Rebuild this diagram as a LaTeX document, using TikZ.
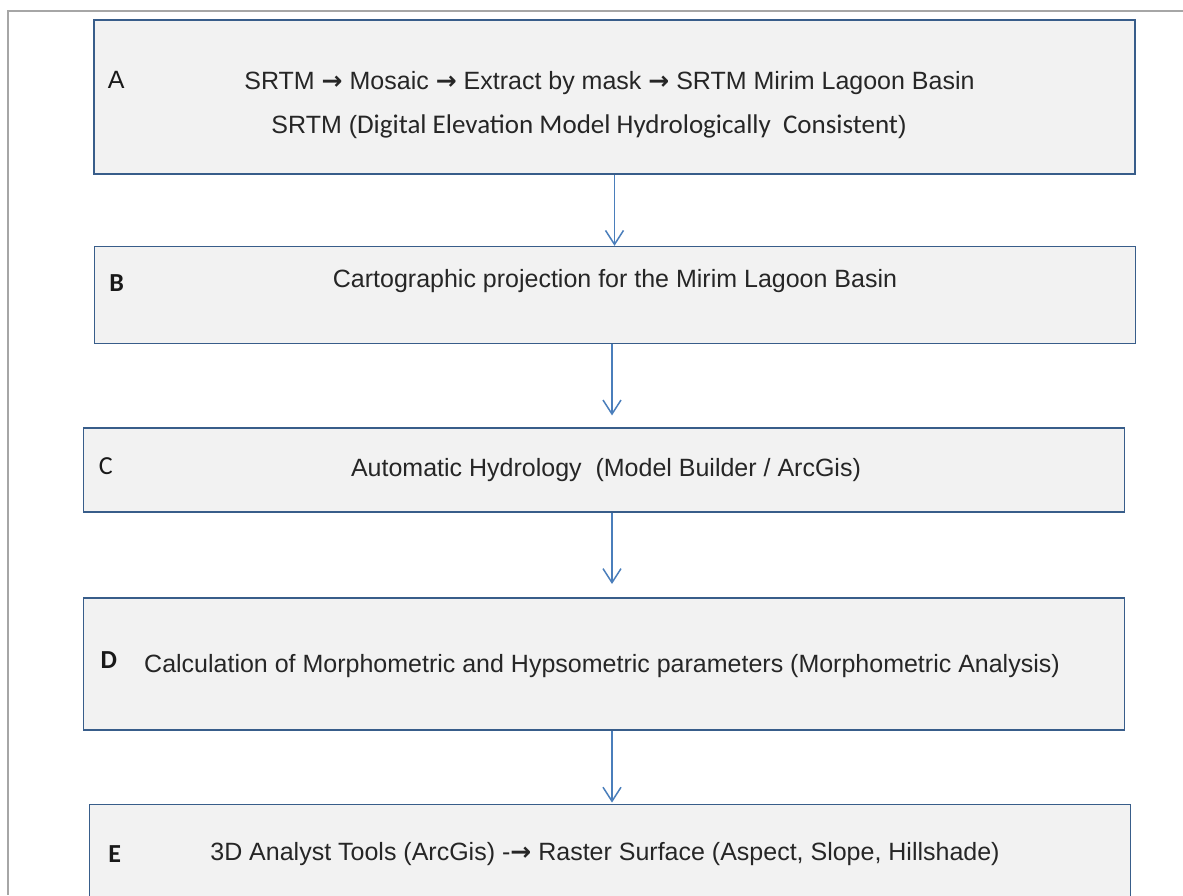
\documentclass[tikz,border=0pt]{standalone}
\usepackage{fontspec}
\setmainfont{Liberation Sans}
\newfontfamily\calibri{Carlito}
\newfontfamily\arrowfont{DejaVu Sans}
\usepackage{tikz}
\usetikzlibrary{calc}
\usetikzlibrary{positioning}
\usetikzlibrary{arrows.meta}

\definecolor{boxBorder}{RGB}{56,93,138}
\definecolor{boxFill}{RGB}{242,242,242}
\definecolor{arrowBlue}{RGB}{74,126,187}
\definecolor{frameGray}{RGB}{166,166,166}

\newcommand{\bigArrow}{{\arrowfont\bfseries →}}

\begin{document}
\begin{tikzpicture} [x=1pt, y=-1pt, node distance = 71pt]
            % Set primary nodes
            \tikzset{
                stepNode/.style={
                        draw=boxBorder,
                        fill=boxFill,
                        line width=1.6pt,
                        rectangle,
                        minimum width=1041pt
                    }
            }
            \tikzset{
                stepText/.style={
                        inner sep=0pt,
                        text=black!85,
                        font=\fontsize{25}{30}\selectfont
                    }
            }
            \tikzset{
                letterNode/.style={
                        inner sep=0pt,
                        text=black!90,
                        font=\calibri\bfseries\fontsize{26}{30}\selectfont
                    }
            }
            % Configure arrows
            \tikzstyle{arrow} = [arrowBlue, line width=1.5pt, ->, >={Straight Barb[length=14pt, width=18pt]}]
            \useasboundingbox (0,0) rectangle (1183,895);
            % Page frame
            \draw[frameGray, line width=1.5pt] (1183,11) -- (8,11) -- (8,895);
            % Placing nodes
            \node[stepNode, minimum height=154pt] (stepA) at (614.5,97) {};
            \node[stepNode, minimum height=97pt, below = 71pt of stepA, xshift = 0.5pt] (stepB) {};
            \node[stepNode, minimum height=84pt, below = 83pt of stepB, xshift = -11pt] (stepC) {};
            \node[stepNode, minimum height=132pt, below = 84pt of stepC] (stepD) {};
            \node[stepNode, minimum height=95pt, below = 73pt of stepD, xshift = 6pt] (stepE) {};
            % Letters
            \node[letterNode, font=\fontsize{25}{30}\selectfont, xshift = 23pt, yshift = 17pt] (letterA) at (stepA.west) {A};
            \node[letterNode, xshift = 23pt, yshift = 12pt] (letterB) at (stepB.west) {B};
            \node[letterNode, font=\calibri\fontsize{26}{30}\selectfont, xshift = 23pt, yshift = 4pt] (letterC) at (stepC.west) {C};
            \node[letterNode, xshift = 26pt, yshift = 4pt] (letterD) at (stepD.west) {D};
            \node[letterNode, xshift = 26pt, yshift = -2pt] (letterE) at (stepE.west) {E};
            % Texts
            \node[stepText] (textA) at (609.5,83) {SRTM \bigArrow{} Mosaic \bigArrow{} Extract by mask \bigArrow{} SRTM Mirim Lagoon Basin};
            \node[stepText] (textAA) at (589,127) {SRTM ({\calibri\fontsize{27}{30}\selectfont Digital Elevation Model Hydrologically\ \ Consistent})};
            \node[stepText, yshift = 14pt] (textB) at (stepB.center) {Cartographic projection for the Mirim Lagoon Basin};
            \node[stepText, xshift = 2pt] (textC) at (stepC.center) {Automatic Hydrology\ \ (Model Builder / ArcGis)};
            \node[stepText, xshift = -2pt, yshift = -2pt] (textD) at (stepD.center) {Calculation of Morphometric and Hypsometric parameters (Morphometric Analysis)};
            \node[stepText, xshift = -5pt, yshift = -2pt] (textE) at (stepE.center) {3D Analyst Tools (ArcGis) -\bigArrow\ Raster Surface (Aspect, Slope, Hillshade)};
            % Draw arrows
            \draw[arrow] (stepA.south) -- (stepA.south |- stepB.north);
            \draw[arrow, shorten >=12pt] ([xshift=-3pt]stepB.south) -- ([xshift=-3pt]stepB.south |- stepC.north);
            \draw[arrow, shorten >=13pt] ([xshift=8pt]stepC.south) -- ([xshift=8pt]stepC.south |- stepD.north);
            \draw[arrow, shorten >=1pt] ([xshift=8pt]stepD.south) -- ([xshift=8pt]stepD.south |- stepE.north);

        \end{tikzpicture}
\end{document}
